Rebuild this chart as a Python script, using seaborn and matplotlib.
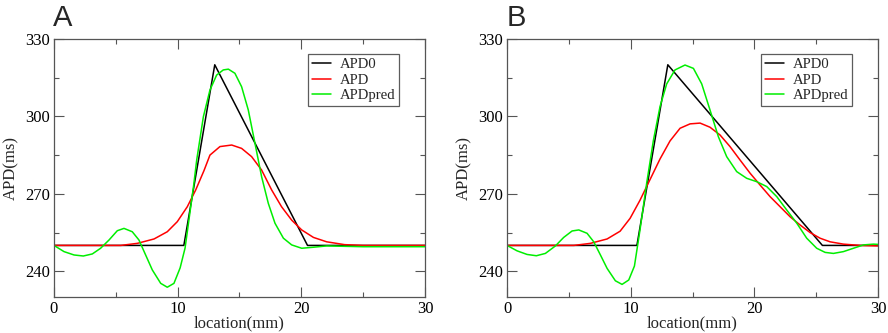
import numpy as np
import pandas as pd
import seaborn as sns
import matplotlib
matplotlib.use("Agg")
import matplotlib.pyplot as plt
from matplotlib.ticker import MultipleLocator

# ---- data ----
# Panel A
a_apd0_x = [0, 10.5, 13.0, 20.5, 30]
a_apd0_y = [250, 250, 320, 250, 250]
a_apd_x = [0, 5.4, 6.74, 8.09, 9.16, 9.97, 10.78, 11.46, 12.13, 12.61, 13.42, 14.37,
           15.17, 15.98, 16.79, 17.6, 18.4, 19.22, 20.03, 20.98, 22.05, 23.5, 25, 30]
a_apd_y = [250, 250, 250.8, 252.5, 255.3, 259.2, 265.0, 271.5, 279.0, 285.0, 288.3, 288.9,
           287.6, 284.4, 279.2, 271.5, 265.0, 259.8, 256.0, 253.1, 251.4, 250.3, 250, 250]
a_pred_x = [0, 0.81, 1.62, 2.37, 3.1, 3.77, 4.45, 5.12, 5.66, 6.33, 6.87, 7.41, 7.95,
            8.63, 9.16, 9.70, 10.2, 10.6, 11.0, 11.3, 11.54, 12.08, 12.61, 13.15, 13.69,
            14.1, 14.63, 15.17, 15.71, 16.25, 16.79, 17.33, 17.87, 18.55, 19.22, 20.03,
            20.98, 22.05, 25.0, 30]
a_pred_y = [250, 247.6, 246.3, 245.9, 246.7, 248.9, 252.1, 255.7, 256.6, 255.3, 252.1,
            246.3, 240.5, 235.3, 233.8, 235.3, 241.3, 249.0, 263.0, 273.5, 283.1, 299.9,
            310.2, 316.0, 318.0, 318.3, 316.7, 311.5, 302.5, 289.6, 276.6, 266.3, 258.6,
            252.8, 250.2, 248.9, 249.3, 249.8, 249.5, 249.5]

# Panel B
b_apd0_x = [0, 10.5, 13.0, 25.5, 30]
b_apd0_y = [250, 250, 320, 250, 250]
b_apd_x = [0, 5.4, 6.74, 8.09, 9.14, 9.95, 10.75, 11.56, 12.37, 13.18, 13.99, 14.8,
           15.61, 16.41, 17.22, 18.03, 18.84, 19.65, 20.46, 21.27, 22.08, 22.89, 23.7,
           24.5, 25.31, 26.12, 27.2, 28.55, 30]
b_apd_y = [250, 250, 250.8, 252.5, 255.5, 260.5, 267.5, 275.5, 283.5, 290.5, 295.4, 297.1,
           297.4, 295.8, 292.8, 288.3, 283.1, 278.0, 273.4, 268.9, 265.0, 261.1, 257.9,
           255.0, 252.8, 251.4, 250.5, 250.0, 249.8]
b_pred_x = [0, 0.81, 1.62, 2.37, 3.1, 3.91, 4.58, 5.26, 5.8, 6.47, 7.01, 7.55, 8.09,
            8.76, 9.3, 9.84, 10.3, 10.75, 11.29, 11.83, 12.37, 12.91, 13.58, 14.39, 15.07,
            15.74, 16.41, 17.09, 17.76, 18.57, 19.38, 20.19, 21.0, 21.81, 22.62, 23.43,
            24.23, 25.04, 25.72, 26.39, 27.2, 28.01, 28.82, 29.63, 30]
b_pred_y = [250, 247.9, 246.5, 246.0, 246.9, 249.8, 253.1, 255.6, 256.0, 254.7, 251.4,
            246.3, 241.1, 236.3, 234.9, 236.6, 242.0, 256.0, 274.1, 290.6, 303.8, 312.6,
            318.0, 319.9, 318.6, 312.6, 302.5, 292.1, 284.4, 278.6, 276.0, 274.7, 272.8,
            268.9, 263.7, 258.6, 252.8, 248.9, 247.3, 246.9, 247.6, 248.9, 250.2, 250.5,
            250.4]

series_names = ["APD0", "APD", "APDpred"]
series_colors = ["#000000", "#ff0000", "#00ee00"]
x_ticks = [0, 10, 20, 30]
y_ticks = [240, 270, 300, 330]
panel_labels = ["A", "B"]

sns.set_theme(style="white")
plt.rcParams["font.family"] = ["Liberation Serif", "DejaVu Serif"]

fig = plt.figure(figsize=(8.88, 3.33), dpi=100)
ax_pos = [[0.0608, 0.108, 0.4178, 0.775], [0.571, 0.108, 0.4178, 0.775]]

panels = [
    [(a_apd0_x, a_apd0_y), (a_apd_x, a_apd_y), (a_pred_x, a_pred_y)],
    [(b_apd0_x, b_apd0_y), (b_apd_x, b_apd_y), (b_pred_x, b_pred_y)],
]

for i, pdata in enumerate(panels):
    ax = fig.add_axes(ax_pos[i])
    for (xs, ys), name, col in zip(pdata, series_names, series_colors):
        df = pd.DataFrame({"x": xs, "y": ys})
        sns.lineplot(data=df, x="x", y="y", ax=ax, color=col, lw=1.1,
                     label=name, sort=False, estimator=None)
    ax.set_xlim(0, 30)
    ax.set_ylim(230, 330)
    ax.set_xticks(x_ticks)
    ax.set_yticks(y_ticks)
    ax.xaxis.set_minor_locator(MultipleLocator(5))
    ax.yaxis.set_minor_locator(MultipleLocator(15))
    ax.tick_params(which="both", direction="in", top=True, right=True,
                   bottom=True, left=True, colors="#555555", labelcolor="black",
                   labelsize=12)
    ax.tick_params(which="major", length=7, width=0.8, pad=3)
    ax.tick_params(which="minor", length=3.5, width=0.8)
    for sp in ax.spines.values():
        sp.set_color("#555555")
        sp.set_linewidth(0.9)
    ax.set_xlabel("location(mm)", fontsize=12, labelpad=-1)
    ax.set_ylabel("APD(ms)", fontsize=12, labelpad=4)
    leg = ax.legend(loc="upper right", bbox_to_anchor=(0.93, 0.94), fontsize=10.6,
                    frameon=True, fancybox=False, handlelength=1.3,
                    handletextpad=0.6, borderpad=0.25, labelspacing=0.15,
                    borderaxespad=0)
    leg.get_frame().set_edgecolor("#333333")
    leg.get_frame().set_linewidth(0.9)
    fig.text(ax_pos[i][0] - 0.001, 0.905, panel_labels[i], fontsize=21,
             family=["Liberation Sans", "DejaVu Sans"], ha="left", va="bottom")

fig.savefig("out.png", dpi=100)
